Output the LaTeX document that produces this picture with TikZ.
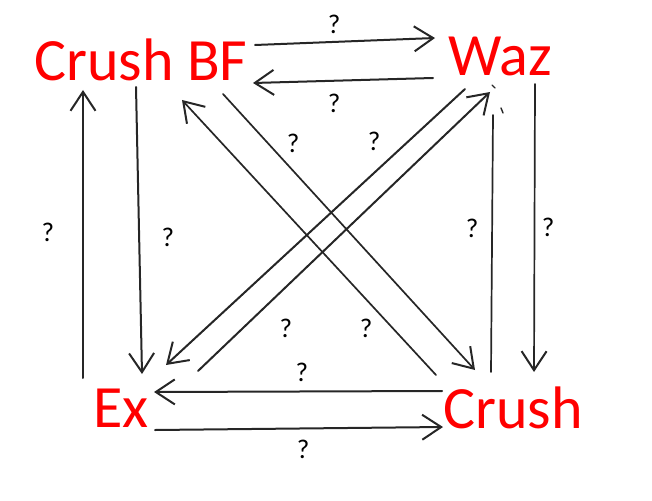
\documentclass[tikz,border=0pt]{standalone}
\usepackage{fontspec}
\setmainfont{Carlito}
\usetikzlibrary{arrows.meta}
\tikzset{
  lbl/.style={font=\fontsize{60}{62}\selectfont, text=red, inner sep=0pt, anchor=base west},
  q/.style={font=\fontsize{27}{29}\selectfont, inner sep=0pt},
  conn/.style={line width=2pt, black!85, line cap=round, -{Straight Barb[length=19pt, width=25pt, line width=2pt]}},
  thin/.style={line width=1.7pt},
  plain/.style={line width=1.7pt, black!85, line cap=round},
}
\begin{document}
\begin{tikzpicture}[x=1pt,y=-1pt]
\useasboundingbox (0,0) rectangle (652,500);
% labels
\node[lbl] (bf) at (34,81) {Crush BF};
\node[lbl] (waz) at (448,76) {Waz};
\node[lbl] (ex) at (93,427) {Ex};
\node[lbl] (cr) at (443,428) {Crush};
% endpoints
\coordinate (a1s) at (255,45);  \coordinate (a1e) at (435,38);
\coordinate (a2s) at (433,78);  \coordinate (a2e) at (253,83);
\coordinate (a3s) at (136,87);  \coordinate (a3e) at (142,374);
\coordinate (a4s) at (83,378);  \coordinate (a4e) at (83,90);
\coordinate (a5s) at (223,94);  \coordinate (a5e) at (475,370);
\coordinate (a6s) at (436,375); \coordinate (a6e) at (182,100);
\coordinate (a7s) at (465,89);  \coordinate (a7e) at (166,365);
\coordinate (a8s) at (198,371); \coordinate (a8e) at (490,92);
\coordinate (a9s) at (491,372); \coordinate (a9e) at (493,115);
\coordinate (a10s) at (535,84); \coordinate (a10e) at (534,372);
\coordinate (a11s) at (442,391);\coordinate (a11e) at (154,392);
\coordinate (a12s) at (155,430);\coordinate (a12e) at (443,427);
\coordinate (t1s) at (492,85);  \coordinate (t1e) at (495,88);
\coordinate (t2s) at (501,108); \coordinate (t2e) at (503,113);
% connectors
\draw[conn] (a1s) -- (a1e);
\draw[conn] (a2s) -- (a2e);
\draw[conn] (a3s) -- (a3e);
\draw[conn] (a4s) -- (a4e);
\draw[conn, thin] (a5s) -- (a5e);
\draw[conn, thin] (a6s) -- (a6e);
\draw[conn] (a7s) -- (a7e);
\draw[conn] (a8s) -- (a8e);
\draw[plain] (a9s) -- (a9e);
\draw[plain, line width=1.4pt] (t1s) -- (t1e);
\draw[plain, line width=1.4pt] (t2s) -- (t2e);
\draw[conn, thin] (a10s) -- (a10e);
\draw[conn] (a11s) -- (a11e);
\draw[conn] (a12s) -- (a12e);
% question marks
\node[q] (q1) at (334,24) {?};
\node[q] (q2) at (334,103) {?};
\node[q] (q3) at (48,232) {?};
\node[q] (q4) at (168,237) {?};
\node[q] (q5) at (293,143) {?};
\node[q] (q6) at (374,141) {?};
\node[q] (q7) at (472,228) {?};
\node[q] (q8) at (548,227) {?};
\node[q] (q9) at (286,328) {?};
\node[q] (q10) at (366,328) {?};
\node[q] (q11) at (302,372) {?};
\node[q] (q12) at (303,449) {?};
\end{tikzpicture}
\end{document}
